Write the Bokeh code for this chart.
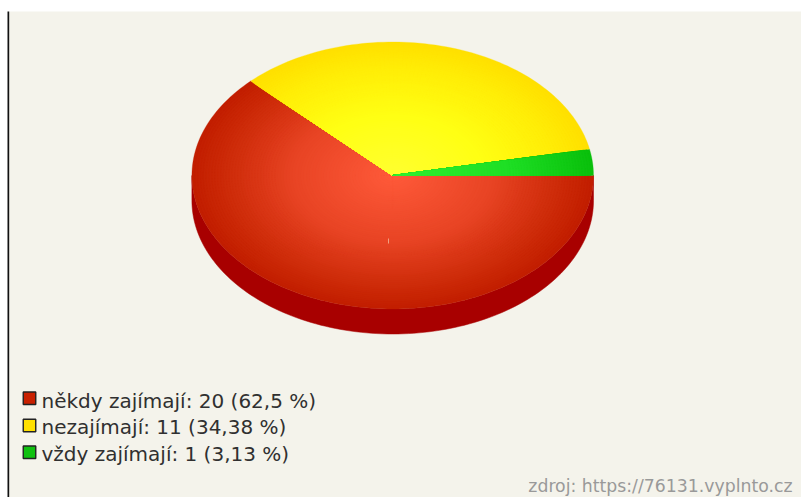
import math
from bokeh.plotting import figure
from bokeh.embed import file_html
from bokeh.resources import INLINE
from bokeh.core.properties import value

labels = ["někdy zajímají: 20 (62,5 %)", "nezajímají: 11 (34,38 %)", "vždy zajímají: 1 (3,13 %)"]
counts = [20, 11, 1]
gradient_stops = [
    [(0.0, (255, 90, 58)), (0.5, (232, 68, 36)), (0.85, (204, 42, 8)), (1.0, (194, 30, 0))],
    [(0.0, (255, 255, 48)), (0.45, (255, 255, 20)), (0.8, (255, 238, 8)), (1.0, (255, 224, 0))],
    [(0.0, (48, 240, 48)), (0.6, (30, 222, 36)), (1.0, (10, 192, 12))],
]
swatch_colors = ["#c82000", "#ffe000", "#10c010"]
source_text = "zdroj: https://76131.vyplnto.cz"

BG = "#f4f3eb"
cx, cy, rx, ry, depth = 392.2, 175, 200.8, 133.5, 25
STEPS = 70

p = figure(width=801, height=497, x_range=(0, 801), y_range=(497, 0),
           output_backend="svg", toolbar_location=None, min_border=0,
           x_axis_type=None, y_axis_type=None, outline_line_color=None,
           background_fill_color="white", border_fill_color="white")
p.grid.visible = False

p.quad(left=[8.5], right=[801], top=[11], bottom=[497], fill_color=BG, line_color=None)
p.quad(left=[7], right=[8.7], top=[11], bottom=[497], fill_color="#111111", line_color=None)


def arc(a0, a1, scale=1.0):
    n = max(2, int(abs(a1 - a0) / 1.5))
    xs, ys = [], []
    for i in range(n + 1):
        a = math.radians(a0 + (a1 - a0) * i / n)
        xs.append(cx + rx * scale * math.cos(a))
        ys.append(cy + ry * scale * math.sin(a))
    return xs, ys


def ramp(stops, t):
    for (t0, c0), (t1, c1) in zip(stops, stops[1:]):
        if t <= t1:
            f = (t - t0) / (t1 - t0)
            return tuple(int(round(c0[j] + (c1[j] - c0[j]) * f)) for j in range(3))
    return stops[-1][1]


total = sum(counts)
top_x, top_y = arc(0, 180)
p.patch(top_x + top_x[::-1], top_y + [y + depth for y in top_y[::-1]],
        fill_color="#a80000", line_color="#a80000", line_width=0.5)

start = 0.0
for v, stops in zip(counts, gradient_stops):
    end = start + 360.0 * v / total
    xs_all, ys_all, cols = [], [], []
    for k in range(STEPS):
        t = 1 - k / STEPS
        xs, ys = arc(start, end, t)
        xs_all.append([cx] + xs)
        ys_all.append([cy] + ys)
        cols.append("#%02x%02x%02x" % ramp(stops, t))
    p.patches(xs_all, ys_all, fill_color=cols, line_color=cols, line_width=0.3)
    start = end

p.quad(left=[387.5], right=[388.5], top=[238], bottom=[243], fill_color="#f0a080", line_color=None)

sw_y = [397.7, 425, 451.7]
tx_y = [400, 426.7, 453]
p.rect(x=[29] * 3, y=sw_y, width=12.5, height=12.5, fill_color=swatch_colors,
       line_color="#222222", line_width=1.4)
p.text(x=[41] * 3, y=tx_y, text=labels, text_font=value("DejaVu Sans"),
       text_font_size="20px", text_color="#303030", text_baseline="middle", text_align="left")
p.text(x=[792], y=[485], text=[source_text], text_font=value("DejaVu Sans"),
       text_font_size="17.3px", text_color="#999999", text_baseline="middle", text_align="right")

html = file_html(p, INLINE)
html = html.replace("<body>", '<body style="margin:0;overflow:hidden;background:white">', 1)
open("out.html", "w").write(html)
